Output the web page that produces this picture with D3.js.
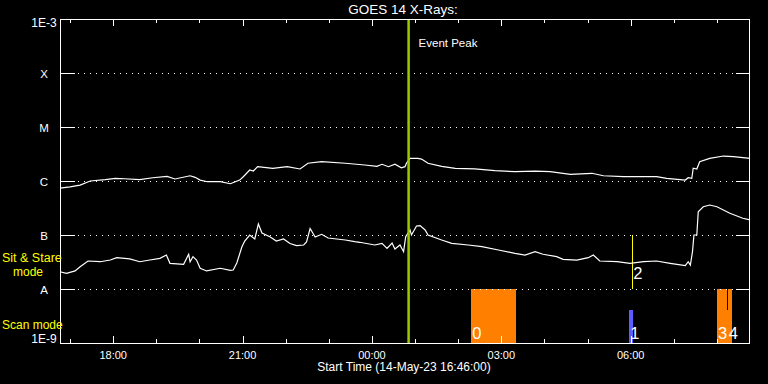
<!DOCTYPE html>
<html><head><meta charset="utf-8">
<script src="https://cdn.jsdelivr.net/npm/d3@7"></script>
<style>
html,body{margin:0;padding:0;background:#000;}
svg{display:block;}
text{font-family:"Liberation Sans",Arial,sans-serif;}
</style>
</head><body>
<svg id="c" width="768" height="384"></svg>
<script>
// ---- DATA (time in minutes after start 14-May-23 16:46:00, flux in W/m^2) ----
const startLabel = "Start Time (14-May-23 16:46:00)";
const titleText = "GOES 14 X-Rays:";
const durationMin = 960;

const longTimes = [0,14,28,42,63,77,90,111,129,149,160,181,188,195,205,223,237,250,255,264,269,275,296,316,334,345,364,397,424,441,448,457,466,475,480,482,487,498,503,512,531,550,577,605,633,661,682,710,740,756,784,812,830,844,870,874,879,881,886,890,904,923,937,960];
const longFlux = [7.4e-7,7.8e-7,8.4e-7,1.0e-6,1.06e-6,1.12e-6,1.10e-6,1.06e-6,1.15e-6,1.22e-6,1.09e-6,1.25e-6,1.17e-6,1.04e-6,0.97e-6,0.97e-6,0.89e-6,1.04e-6,1.20e-6,1.60e-6,1.53e-6,1.84e-6,1.72e-6,1.84e-6,1.67e-6,2.13e-6,2.28e-6,2.13e-6,1.98e-6,1.87e-6,2.04e-6,1.84e-6,2.04e-6,1.76e-6,1.84e-6,2.13e-6,2.63e-6,2.63e-6,2.55e-6,2.13e-6,1.87e-6,1.72e-6,1.67e-6,1.55e-6,1.49e-6,1.53e-6,1.49e-6,1.33e-6,1.39e-6,1.25e-6,1.20e-6,1.20e-6,1.20e-6,1.12e-6,1.04e-6,1.15e-6,1.12e-6,1.72e-6,1.67e-6,2.28e-6,2.63e-6,2.90e-6,2.82e-6,2.63e-6];

const shortTimes = [0,9,21,28,39,56,70,79,97,111,125,139,148,153,172,179,181,185,190,195,204,223,237,241,246,253,257,264,271,276,281,292,301,311,320,329,339,343,348,355,364,373,397,410,417,438,448,455,462,466,473,478,481,487,489,496,501,508,512,531,545,568,587,610,633,647,661,672,691,700,719,735,742,751,775,793,812,830,849,870,874,877,880,882,886,888,895,904,914,932,950,960];
const shortFlux = [2.09e-8,1.95e-8,2.16e-8,2.59e-8,3.30e-8,3.2e-8,3.44e-8,3.8e-8,3.6e-8,3.2e-8,3.44e-8,3.7e-8,4.26e-8,2.99e-8,2.87e-8,4.4e-8,3.2e-8,3.97e-8,3.44e-8,2.42e-8,2.16e-8,2.42e-8,2.22e-8,2.25e-8,3.03e-8,6.0e-8,7.74e-8,1.0e-7,8.43e-8,1.6e-7,1.09e-7,9.3e-8,7.74e-8,8.43e-8,6.96e-8,6.34e-8,6.53e-8,7.42e-8,1.32e-7,9.18e-8,1.03e-7,8.8e-8,8.08e-8,7.51e-8,7.33e-8,6.53e-8,7.02e-8,5.67e-8,7.11e-8,5.5e-8,6.53e-8,4.91e-8,9.3e-8,1.24e-7,1.0e-7,1.47e-7,1.49e-7,1.24e-7,1.0e-7,8.08e-8,7.02e-8,6.53e-8,6.07e-8,5.27e-8,4.58e-8,4.26e-8,4.91e-8,4.4e-8,3.97e-8,3.55e-8,3.44e-8,3.8e-8,4.26e-8,3.3e-8,3.2e-8,2.99e-8,3.2e-8,3.3e-8,2.99e-8,2.7e-8,3.2e-8,2.78e-8,4.91e-8,1.0e-7,1.0e-7,2.7e-7,3.34e-7,3.59e-7,3.34e-7,2.52e-7,2.04e-7,1.90e-7];

const levelValues = [1e-3,1e-4,1e-5,1e-6,1e-7,1e-8,1e-9];
const levelLabels = ["1E-3","X","M","C","B","A","1E-9"];

const tickLabelTimes = [74,254,434,614,794];
const tickLabels = ["18:00","21:00","00:00","03:00","06:00"];
const minorTickTimes = [14,74,134,194,254,314,374,434,494,554,614,674,734,794,854,914];

const eventPeakTime = 485;
const eventPeakLabel = "Event Peak";

const markerIds   = ["0","1","2","3","4"];
const markerStart = [572,792,796,914,929];
const markerEnd   = [634,797,796,929,935];
const markerMode  = ["scan","scan-short","stare","scan","scan"];

// ---- LAYOUT / STYLE ----
const L=60,R=750,T=19,B=343;
const svg=d3.select("#c");
svg.append("rect").attr("width",768).attr("height",384).attr("fill","#000");

const x=d3.scaleLinear().domain([0,durationMin]).range([L,R]);
const y=d3.scaleLog().domain([1e-9,1e-3]).range([B,T]);
const px=v=>Math.round(v)+0.5;

const markerColor={"scan":"#ff8000","scan-short":"#5c5cff","stare":"#ffff00"};

// markers
markerIds.forEach((id,i)=>{
  const mode=markerMode[i];
  const x0=x(markerStart[i]), x1=x(markerEnd[i]);
  if(mode==="stare"){
    svg.append("line").attr("x1",px(x0)).attr("x2",px(x0))
      .attr("y1",y(1e-7)).attr("y2",y(1e-8))
      .attr("stroke",markerColor[mode]).attr("stroke-width",1).attr("shape-rendering","crispEdges");
  } else {
    const top = mode==="scan" ? y(1e-8) : y(1e-8)+(y(1e-9)-y(1e-8))*0.39;
    svg.append("rect").attr("x",x0).attr("y",top).attr("width",Math.max(1,x1-x0)).attr("height",B-top)
      .attr("fill",markerColor[mode]).attr("shape-rendering","crispEdges");
  }
});
// separator at start of marker 4 (upper part of scan band)
{
  const i=4, xs=px(x(markerStart[i])-1);
  svg.append("line").attr("x1",xs).attr("x2",xs)
    .attr("y1",y(1e-8)).attr("y2",y(1e-8)+(y(1e-9)-y(1e-8))*0.39)
    .attr("stroke","#000").attr("stroke-width",1).attr("shape-rendering","crispEdges");
}

// gridlines (dotted) + y ticks
levelValues.slice(1,6).forEach(v=>{
  const yy=px(y(v));
  svg.append("line").attr("x1",78).attr("x2",735).attr("y1",yy).attr("y2",yy)
    .attr("stroke","#fff").attr("stroke-dasharray","1 5").attr("shape-rendering","crispEdges");
  svg.append("line").attr("x1",L).attr("x2",L+15).attr("y1",yy).attr("y2",yy)
    .attr("stroke","#fff").attr("shape-rendering","crispEdges");
  svg.append("line").attr("x1",R-14).attr("x2",R).attr("y1",yy).attr("y2",yy)
    .attr("stroke","#fff").attr("shape-rendering","crispEdges");
});

// curves
const line=d3.line().x(d=>x(d[0])).y(d=>y(d[1]));
svg.append("path").datum(d3.zip(longTimes,longFlux)).attr("d",line)
  .attr("fill","none").attr("stroke","#fff").attr("stroke-width",1.2);
svg.append("path").datum(d3.zip(shortTimes,shortFlux)).attr("d",line)
  .attr("fill","none").attr("stroke","#fff").attr("stroke-width",1.2);

// event peak
svg.append("line").attr("x1",x(eventPeakTime)).attr("x2",x(eventPeakTime)).attr("y1",T).attr("y2",B)
  .attr("stroke","#99cc00").attr("stroke-width",2.5);
svg.append("text").attr("x",x(eventPeakTime)+10).attr("y",47).attr("fill","#fff")
  .attr("font-size","11.5px").text(eventPeakLabel);

// frame
svg.append("rect").attr("x",L+0.5).attr("y",T+0.5).attr("width",R-L-1).attr("height",B-T)
  .attr("fill","none").attr("stroke","#fff").attr("shape-rendering","crispEdges");

// x ticks
minorTickTimes.forEach(t=>{
  const major=tickLabelTimes.includes(t);
  const len=major?7:4;
  const xx=px(x(t));
  svg.append("line").attr("x1",xx).attr("x2",xx).attr("y1",B).attr("y2",B-len)
    .attr("stroke","#fff").attr("shape-rendering","crispEdges");
  svg.append("line").attr("x1",xx).attr("x2",xx).attr("y1",T).attr("y2",T+len)
    .attr("stroke","#fff").attr("shape-rendering","crispEdges");
});
tickLabels.forEach((lab,i)=>{
  svg.append("text").attr("x",x(tickLabelTimes[i])).attr("y",358.5).attr("text-anchor","middle")
    .attr("fill","#fff").attr("font-size","11px").text(lab);
});

// y labels
levelLabels.forEach((lab,i)=>{
  const yy=Math.min(B,Math.max(T+8,y(levelValues[i])+4.5));
  svg.append("text").attr("x",44).attr("y",yy).attr("text-anchor","middle")
    .attr("fill","#fff").attr("font-size",lab.length>1?"12px":"11.5px").text(lab);
});

// marker labels
markerIds.forEach((id,i)=>{
  const base = markerMode[i]==="stare" ? 278.5 : 338.5;
  svg.append("text").attr("x",x(markerStart[i])+1).attr("y",base)
    .attr("fill","#fff").attr("font-size","16.5px").text(id);
});

// mode labels
const yel="#ffff00";
svg.append("text").attr("x",2).attr("y",262).attr("fill",yel).attr("font-size","12.5px").text("Sit & Stare");
svg.append("text").attr("x",13).attr("y",276).attr("fill",yel).attr("font-size","12px").text("mode");
svg.append("text").attr("x",2).attr("y",328.5).attr("fill",yel).attr("font-size","12px").text("Scan mode");

// title & caption
svg.append("text").attr("x",403).attr("y",13.5).attr("text-anchor","middle").attr("fill","#fff")
  .attr("font-size","13.5px").text(titleText);
svg.append("text").attr("x",404).attr("y",371).attr("text-anchor","middle").attr("fill","#fff")
  .attr("font-size","12px").text(startLabel);
</script>
</body></html>
